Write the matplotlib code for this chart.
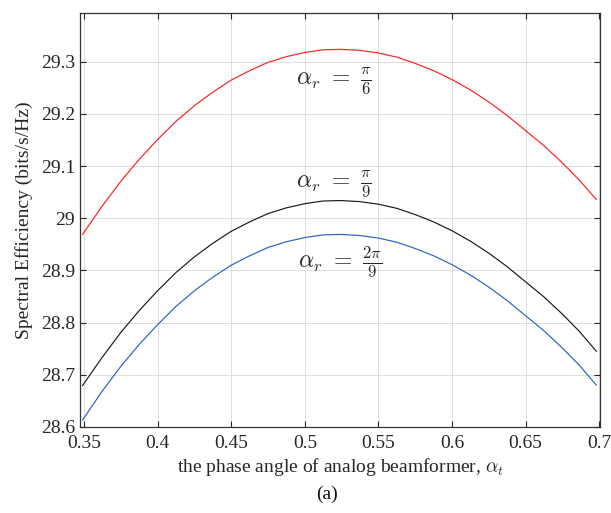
import matplotlib
matplotlib.use("Agg")
import matplotlib.pyplot as plt

plt.rcParams['font.family'] = ['Liberation Serif', 'DejaVu Serif']
plt.rcParams['mathtext.fontset'] = 'cm'

# phase angle of analog beamformer (alpha_t)
alpha_t = [0.349, 0.362, 0.375, 0.3875, 0.400, 0.4125, 0.425, 0.4375,
           0.450, 0.4625, 0.475, 0.4875, 0.500, 0.512, 0.524, 0.537,
           0.550, 0.5625, 0.575, 0.5875, 0.600, 0.6125, 0.625, 0.6375,
           0.650, 0.6625, 0.675, 0.6865, 0.698]

# spectral efficiency, alpha_r = pi/6
se_pi6 = [28.969, 29.022, 29.071, 29.113, 29.151, 29.186, 29.216, 29.242,
          29.265, 29.283, 29.299, 29.310, 29.318, 29.323, 29.324, 29.322,
          29.317, 29.309, 29.297, 29.283, 29.266, 29.246, 29.223, 29.197,
          29.168, 29.139, 29.106, 29.073, 29.036]
# alpha_r = pi/9
se_pi9 = [28.679, 28.732, 28.781, 28.823, 28.861, 28.896, 28.926, 28.952,
          28.975, 28.993, 29.009, 29.020, 29.028, 29.033, 29.034, 29.032,
          29.027, 29.019, 29.007, 28.993, 28.976, 28.956, 28.933, 28.907,
          28.878, 28.849, 28.816, 28.783, 28.745]
# alpha_r = 2pi/9
se_2pi9 = [28.613, 28.667, 28.716, 28.758, 28.796, 28.831, 28.861, 28.887,
           28.910, 28.928, 28.944, 28.955, 28.963, 28.968, 28.969, 28.967,
           28.962, 28.954, 28.942, 28.928, 28.911, 28.891, 28.868, 28.842,
           28.813, 28.784, 28.751, 28.718, 28.680]

xticks = [0.35, 0.4, 0.45, 0.5, 0.55, 0.6, 0.65, 0.7]
xticklabels = ['0.35', '0.4', '0.45', '0.5', '0.55', '0.6', '0.65', '0.7']
yticks = [28.6, 28.7, 28.8, 28.9, 29.0, 29.1, 29.2, 29.3]
yticklabels = ['28.6', '28.7', '28.8', '28.9', '29', '29.1', '29.2', '29.3']

fig = plt.figure(figsize=(6.11, 5.13), dpi=100)
ax = fig.add_axes([0.131, 0.168, 0.851, 0.807])

ax.plot(alpha_t, se_pi6, color='#ff2020', lw=0.85)
ax.plot(alpha_t, se_pi9, color='#1a1a1a', lw=0.85)
ax.plot(alpha_t, se_2pi9, color='#2b63c2', lw=0.85)

ax.text(0.5196, 29.265, r'$\alpha_r\ =\ \frac{\pi}{6}$', fontsize=17,
        ha='center', va='center', color='#262626')
ax.text(0.5196, 29.067, r'$\alpha_r\ =\ \frac{\pi}{9}$', fontsize=17,
        ha='center', va='center', color='#262626')
ax.text(0.5237, 28.915, r'$\alpha_r\ =\ \frac{2\pi}{9}$', fontsize=17,
        ha='center', va='center', color='#262626')

ax.set_xlim(0.3473, 0.7005)
ax.set_ylim(28.6, 29.394)
ax.set_xticks(xticks)
ax.set_xticklabels(xticklabels)
ax.set_yticks(yticks)
ax.set_yticklabels(yticklabels)
ax.tick_params(direction='in', top=True, right=True, labelsize=14,
               colors='#262626', length=4, width=0.8)
ax.tick_params(axis='x', pad=6)
ax.grid(True, color='#dedede', lw=0.7)
for s in ax.spines.values():
    s.set_color('#333333')
    s.set_linewidth(0.9)

ax.set_xlabel(r'the phase angle of analog beamformer, $\alpha_t$',
              fontsize=14, color='#262626', labelpad=3)
ax.set_ylabel('Spectral Efficiency (bits/s/Hz)', fontsize=14,
              color='#262626', labelpad=6)
fig.text(0.535, 0.037, '(a)', fontsize=14, ha='center', va='center',
         color='#111111')

fig.savefig('out.png', dpi=100)
